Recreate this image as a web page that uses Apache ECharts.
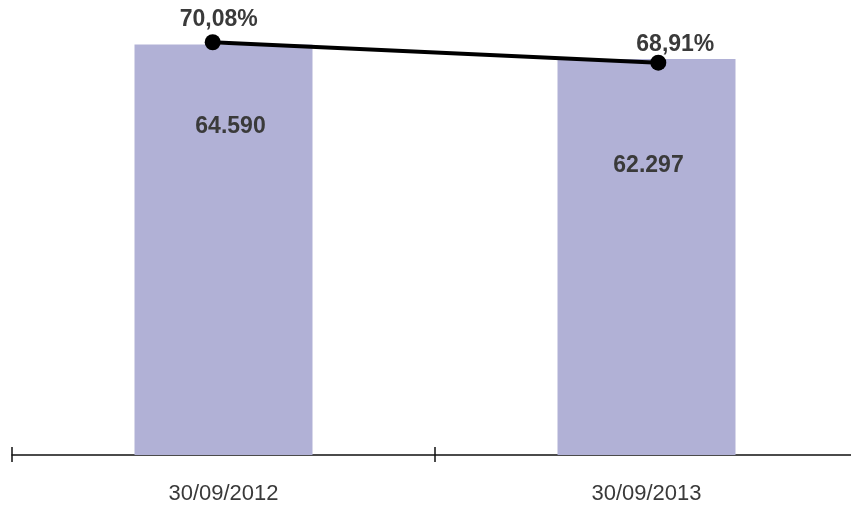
<!DOCTYPE html>
<html>
<head>
<meta charset="utf-8">
<script src="https://cdn.jsdelivr.net/npm/echarts@6/dist/echarts.min.js"></script>
<style>
  html, body { margin: 0; padding: 0; background: #fff; }
  #chart { width: 851px; height: 506px; }
</style>
</head>
<body>
<div id="chart"></div>
<script>
// Categories and values
const categories = ['30/09/2012', '30/09/2013'];
const volumes = [64590, 62297];
const ratios = [70.08, 68.91];

// Label placement for each bar / point (pixels)
const barLabelPos = [[89, 82], [89, 107]];
const barLabelShift = [[7, 0], [2, 0]];
const ratioLabelShift = [[6, 0], [17, 5]];

const fmtInt = v => String(v).replace(/\B(?=(\d{3})+(?!\d))/g, '.');
const fmtPct = v => v.toFixed(2).replace('.', ',') + '%';

const textColor = '#3a3a3a';
const fontFamily = '"Liberation Sans", Arial, sans-serif';

const chart = echarts.init(document.getElementById('chart'), null, { renderer: 'canvas' });

chart.setOption({
  animation: false,
  backgroundColor: '#ffffff',
  grid: [
    { left: 12, width: 846, top: 10, bottom: 51, containLabel: false, outerBoundsMode: 'none' },
    { left: 212.7, width: 445.6, top: 10, bottom: 51, containLabel: false, outerBoundsMode: 'none' }
  ],
  xAxis: [
    {
      type: 'category', gridIndex: 0, data: categories, boundaryGap: true,
      axisLine: { show: true, lineStyle: { color: '#111', width: 1.5 } },
      axisTick: { show: true, length: 7, lineStyle: { color: '#111', width: 1.5 } },
      axisLabel: { color: textColor, fontSize: 22, fontFamily: fontFamily, margin: 28 },
      splitLine: { show: false }
    },
    {
      type: 'category', gridIndex: 0, data: categories, boundaryGap: true, position: 'bottom',
      axisLine: { show: false },
      axisTick: { show: true, inside: true, length: 8, lineStyle: { color: '#111', width: 1.5 } },
      axisLabel: { show: false },
      splitLine: { show: false }
    },
    {
      type: 'category', gridIndex: 1, data: categories, boundaryGap: false, show: false
    }
  ],
  yAxis: [
    { type: 'value', gridIndex: 0, min: 0, max: 70000, show: false, splitLine: { show: false } },
    { type: 'value', gridIndex: 1, min: 46.4, max: 71.93, show: false, splitLine: { show: false } }
  ],
  series: [
    {
      type: 'bar',
      xAxisIndex: 0, yAxisIndex: 0,
      barWidth: 178,
      itemStyle: { color: '#b1b1d6' },
      data: volumes.map((v, i) => ({
        value: v,
        label: {
          show: true,
          position: barLabelPos[i],
          offset: barLabelShift[i],
          align: 'center',
          verticalAlign: 'middle',
          formatter: p => fmtInt(p.value),
          color: textColor,
          fontSize: 23,
          fontWeight: 'bold',
          fontFamily: fontFamily
        }
      }))
    },
    {
      type: 'line',
      xAxisIndex: 2, yAxisIndex: 1,
      symbol: 'circle',
      symbolSize: 16,
      lineStyle: { color: '#000', width: 4 },
      itemStyle: { color: '#000' },
      data: ratios.map((v, i) => ({
        value: v,
        label: {
          show: true,
          position: 'top',
          distance: 3,
          offset: ratioLabelShift[i],
          formatter: p => fmtPct(p.value),
          color: textColor,
          fontSize: 23,
          fontWeight: 'bold',
          fontFamily: fontFamily
        }
      }))
    }
  ]
});
</script>
</body>
</html>
